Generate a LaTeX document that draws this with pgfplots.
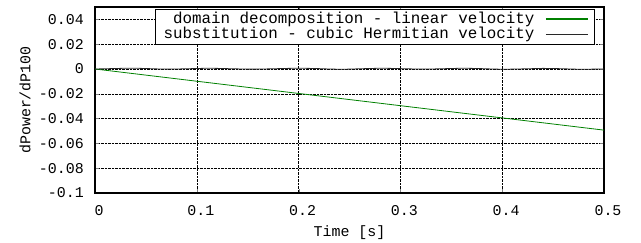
\documentclass[border=0pt]{standalone}
\usepackage{fontspec}
\setmainfont{Liberation Mono}
\usepackage{pgfplots}
\pgfplotsset{compat=1.18}
\definecolor{gnugreen}{RGB}{0,128,0}
\definecolor{gnugray}{RGB}{40,40,40}
\begin{document}
\fontsize{15}{17}\selectfont
\begin{tikzpicture}
\useasboundingbox (0,0) rectangle (641bp,243bp);
\begin{axis}[
  at={(95bp,50bp)}, anchor=south west,
  scale only axis, width=509bp, height=186bp,
  xmin=0, xmax=0.5, ymin=-0.1, ymax=0.05,
  xtick={0,0.1,0.2,0.3,0.4,0.5},
  xticklabels={0,0.1,0.2,0.3,0.4,0.5},
  ytick={-0.1,-0.08,-0.06,-0.04,-0.02,0,0.02,0.04},
  yticklabels={-0.1,-0.08,-0.06,-0.04,-0.02,0,0.02,0.04},
  tick align=inside, major tick length=4bp,
  axis line style={line width=1.3pt},
  grid=major,
  major grid style={densely dotted, black, line width=0.5pt},
  xticklabel style={yshift=-7bp, xshift=4bp},
  yticklabel style={xshift=-6bp},
  xlabel={Time [s]}, ylabel={dPower/dP100},
  xlabel style={at={(axis description cs:0.5,-0.215)}, anchor=center},
  ylabel style={at={(axis description cs:-0.1375,0.5)}, anchor=center},
  legend plot pos=right,
  legend cell align=right,
  legend style={at={(rel axis cs:0.982,0.99)}, anchor=north east,
    draw, line width=0.6pt, inner xsep=6bp, inner ysep=1pt, row sep=-2.5pt,
    font=\fontsize{15.9}{17}\selectfont},
  legend image code/.code={\draw[#1,line width=1.1pt] (0bp,0bp) -- (42bp,0bp);},
]
\addplot[color=gnugreen, draw=gnugreen, line width=0.8pt] coordinates {(0,0) (0.5,-0.0493)};
\addlegendentry{domain decomposition - linear velocity\kern9bp}
\addplot[color=gnugray, draw=gnugray, line width=0.8pt] coordinates {
(0,0) (0.01,0.0002) (0.02,0.0004) (0.03,0.0006) (0.04,0.0006) (0.05,0.0004)
(0.06,0.0001) (0.07,-0.0001) (0.08,0) (0.09,0.0002) (0.10,0.0004) (0.11,0.0006)
(0.12,0.0005) (0.13,0.0003) (0.14,0.0001) (0.15,-0.0001) (0.16,-0.0001) (0.17,0.0001)
(0.18,0.0003) (0.19,0.0005) (0.20,0.0006) (0.21,0.0005) (0.22,0.0003) (0.23,0)
(0.24,-0.0002) (0.25,-0.0001) (0.26,0.0002) (0.27,0.0004) (0.28,0.0006) (0.29,0.0005)
(0.30,0.0003) (0.31,0.0001) (0.32,-0.0001) (0.33,0) (0.34,0.0002) (0.35,0.0004)
(0.36,0.0006) (0.37,0.0005) (0.38,0.0003) (0.39,0) (0.40,-0.0002) (0.41,-0.0001)
(0.42,0.0001) (0.43,0.0003) (0.44,0.0005) (0.45,0.0004) (0.46,0.0002) (0.47,-0.0001)
(0.48,-0.0002) (0.49,-0.0001) (0.50,0)};
\addlegendentry{substitution - cubic Hermitian velocity\kern9bp}
\end{axis}
\end{tikzpicture}
\end{document}
